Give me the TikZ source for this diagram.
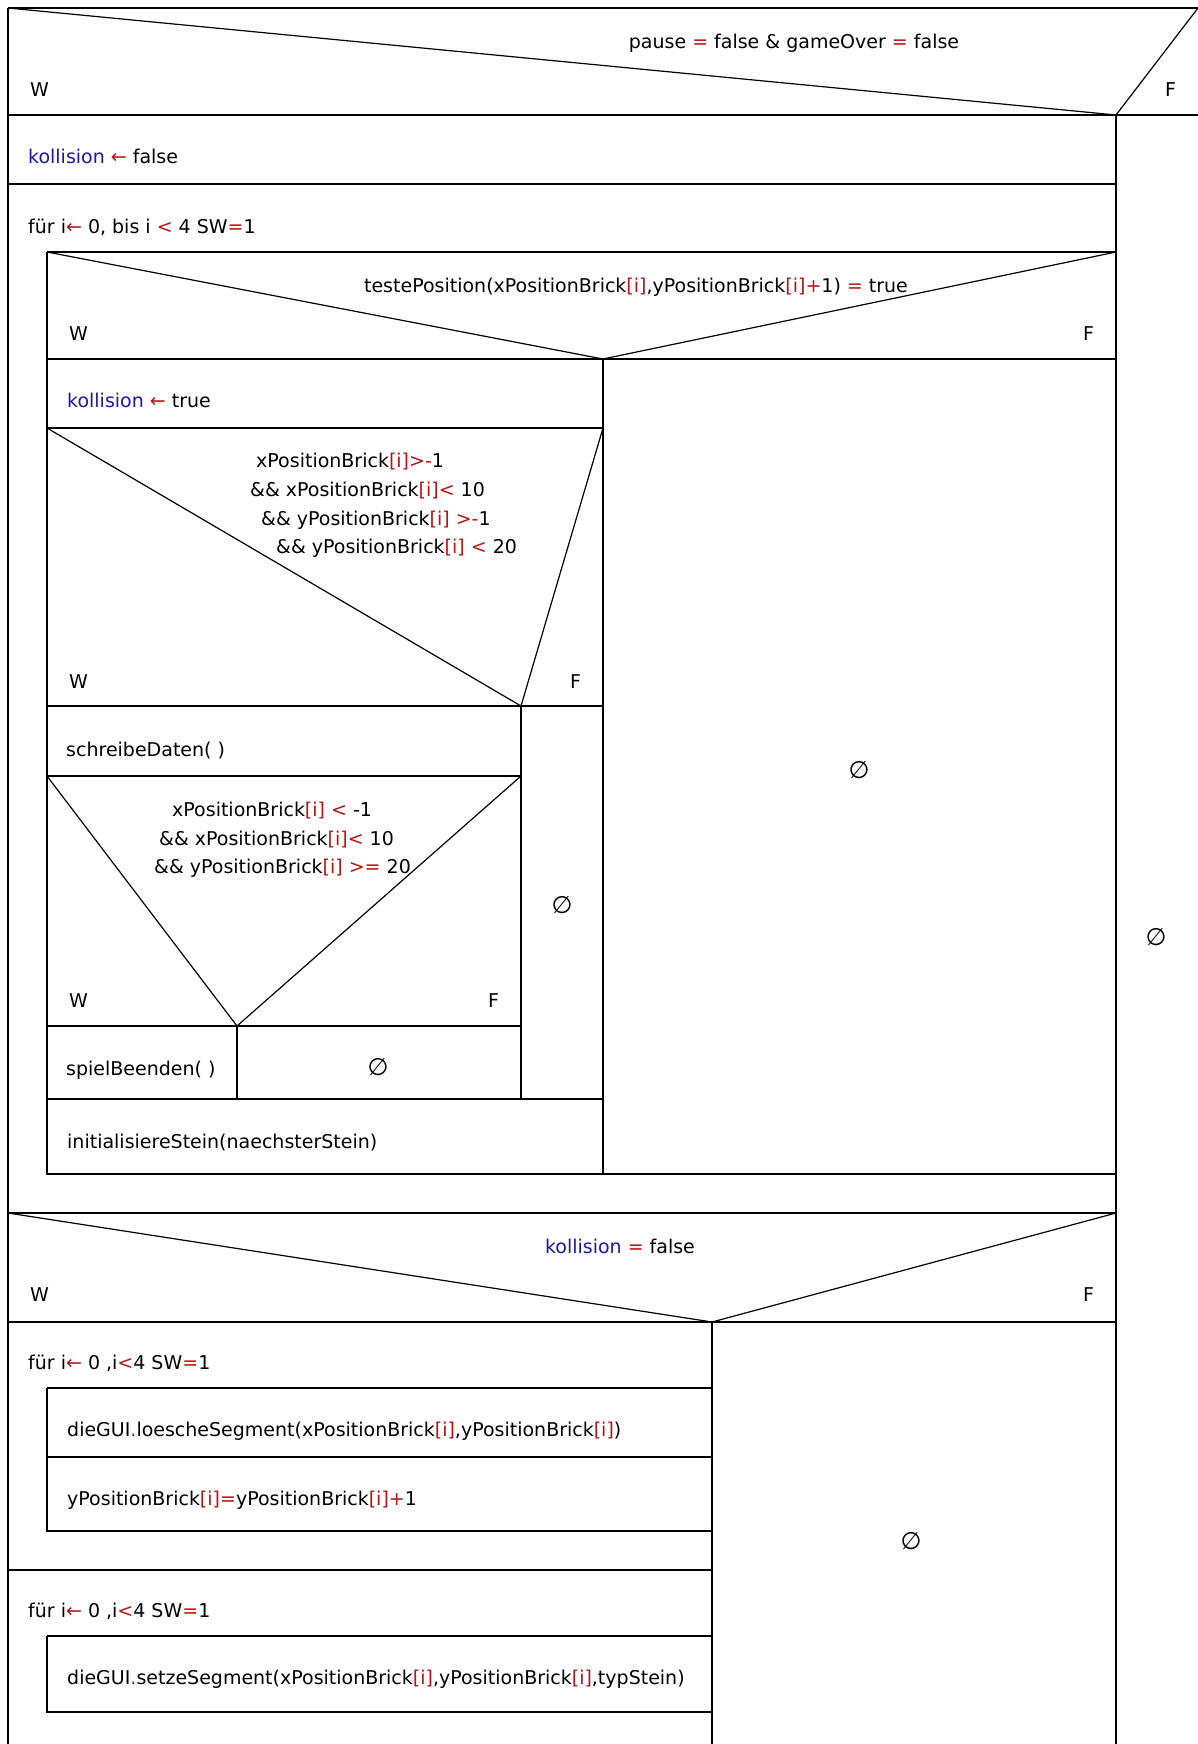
\documentclass[tikz,border=0pt]{standalone}
\usepackage{fontspec}
\setmainfont{DejaVu Sans}
\definecolor{kwblue}{RGB}{25,25,170}
\definecolor{opred}{RGB}{185,20,20}
\newcommand{\op}[1]{\textcolor{opred}{#1}}
\newcommand{\kw}[1]{\textcolor{kwblue}{#1}}
\newcommand{\zuw}{\op{←}}
\newcommand{\leer}{{\fontsize{24}{24}\selectfont ∅}}
\newcommand{\idx}{\op{[i]}}
\tikzset{
  nsline/.style={line width=1.2pt, black},
  lbl/.style={anchor=mid west, inner sep=0pt, yshift=-4.5pt, font=\fontsize{19}{23}\selectfont},
  clbl/.style={anchor=mid, inner sep=0pt, yshift=-4.5pt, font=\fontsize{19}{23}\selectfont},
}
\begin{document}
\begin{tikzpicture}[x=1pt,y=-1pt]
  \useasboundingbox (0,0) rectangle (1198,1744);
  \clip (0,0) rectangle (1198,1744);

  % columns
  \def\xL{8}     % outer left
  \def\xI{47}    % loop body
  \def\xS{237}   % split spielBeenden
  \def\xT{521}   % split bounds check
  \def\xU{603}   % split testePosition
  \def\xK{712}   % split kollision = false
  \def\xM{1116}  % split pause / gameOver
  \def\xR{1198}  % outer right
  \def\yEnd{1770} % below the page

  % outer decision
  \coordinate (TL) at (\xL,8);
  \coordinate (TR) at (\xR,8);
  \coordinate (TM) at (\xM,115);
  \draw[nsline] (TL) -- (TR);
  \draw[nsline] (TL) -- (\xL,\yEnd);
  \draw[nsline] (\xL,115) -- (\xR,115);
  \draw[nsline] (TL) -- (TM) -- (TR);
  \draw[nsline] (TM) -- (\xM,\yEnd);
  \node[clbl] (c0) at (794,41) {pause \op{=} false \& gameOver \op{=} false};
  \node[lbl] (w0) at (30,89) {W};
  \node[lbl] (f0) at (1165,89) {F};
  \node[clbl] (e0) at (1156,938) {\leer};

  % kollision <- false
  \draw[nsline] (\xL,184) -- (\xM,184);
  \node[lbl] (k0) at (28,156) {\kw{kollision} \zuw{} false};

  % loop over the four bricks
  \node[lbl] (for1) at (28,226) {für i\zuw{} 0, bis i \op{<} 4 SW\op{=}1};
  \draw[nsline] (\xI,252) -- (\xM,252);
  \draw[nsline] (\xI,252) -- (\xI,1174) -- (\xM,1174);
  \draw[nsline] (\xL,1213) -- (\xM,1213);

  % testePosition
  \coordinate (D1) at (\xU,359);
  \draw[nsline] (\xI,252) -- (D1) -- (\xM,252);
  \draw[nsline] (\xI,359) -- (\xM,359);
  \draw[nsline] (D1) -- (\xU,1174);
  \node[clbl] (c1) at (636,285) {testePosition(xPositionBrick\idx,yPositionBrick\idx\op{+}1) \op{=} true};
  \node[lbl] (w1) at (69,333) {W};
  \node[lbl] (f1) at (1083,333) {F};
  \node[clbl] (e1) at (859,771) {\leer};

  % kollision <- true
  \node[lbl] (k1) at (67,400) {\kw{kollision} \zuw{} true};
  \draw[nsline] (\xI,428) -- (\xU,428);

  % bounds check
  \coordinate (D2) at (\xT,706);
  \draw[nsline] (\xI,428) -- (D2) -- (\xU,428);
  \draw[nsline] (\xI,706) -- (\xU,706);
  \draw[nsline] (D2) -- (\xT,1099);
  \node[lbl] (c2a) at (256,460) {xPositionBrick\idx\op{>-}1};
  \node[lbl] (c2b) at (250,489) {\&\& xPositionBrick\idx\op{<} 10};
  \node[lbl] (c2c) at (261,518) {\&\& yPositionBrick\idx{} \op{>-}1};
  \node[lbl] (c2d) at (276,546) {\&\& yPositionBrick\idx{} \op{<} 20};
  \node[lbl] (w2) at (69,681) {W};
  \node[lbl] (f2) at (570,681) {F};
  \node[clbl] (e2) at (562,906) {\leer};

  % schreibeDaten
  \node[lbl] (sd) at (66,749) {schreibeDaten( )};
  \draw[nsline] (\xI,776) -- (\xT,776);

  % end of game check
  \coordinate (D3) at (\xS,1026);
  \draw[nsline] (\xI,776) -- (D3) -- (\xT,776);
  \draw[nsline] (\xI,1026) -- (\xT,1026);
  \draw[nsline] (D3) -- (\xS,1099);
  \node[lbl] (c3a) at (172,809) {xPositionBrick\idx{} \op{<} -1};
  \node[lbl] (c3b) at (159,838) {\&\& xPositionBrick\idx\op{<} 10};
  \node[lbl] (c3c) at (154,866) {\&\& yPositionBrick\idx{} \op{>=} 20};
  \node[lbl] (w3) at (69,1000) {W};
  \node[lbl] (f3) at (488,1000) {F};
  \node[lbl] (sb) at (66,1068) {spielBeenden( )};
  \node[clbl] (e3) at (378,1068) {\leer};

  % initialisiereStein
  \draw[nsline] (\xI,1099) -- (\xU,1099);
  \node[lbl] (is) at (67,1141) {initialisiereStein(naechsterStein)};

  % kollision = false
  \coordinate (D4) at (\xK,1322);
  \draw[nsline] (\xL,1213) -- (D4) -- (\xM,1213);
  \draw[nsline] (\xL,1322) -- (\xM,1322);
  \draw[nsline] (D4) -- (\xK,\yEnd);
  \node[clbl] (c4) at (620,1246) {\kw{kollision} \op{=} false};
  \node[lbl] (w4) at (30,1294) {W};
  \node[lbl] (f4) at (1083,1294) {F};
  \node[clbl] (e4) at (911,1542) {\leer};

  % loop: move down
  \node[lbl] (for2) at (28,1362) {für i\zuw{} 0 ,i\op{<}4 SW\op{=}1};
  \draw[nsline] (\xI,1388) -- (\xK,1388);
  \draw[nsline] (\xI,1388) -- (\xI,1531) -- (\xK,1531);
  \draw[nsline] (\xI,1457) -- (\xK,1457);
  \node[lbl] (ls) at (67,1429) {dieGUI\op{.}loescheSegment(xPositionBrick\idx,yPositionBrick\idx)};
  \node[lbl] (yp) at (67,1498) {yPositionBrick\idx\op{=}yPositionBrick\idx\op{+}1};
  \draw[nsline] (\xL,1570) -- (\xK,1570);

  % loop: draw again
  \node[lbl] (for3) at (28,1610) {für i\zuw{} 0 ,i\op{<}4 SW\op{=}1};
  \draw[nsline] (\xI,1636) -- (\xK,1636);
  \draw[nsline] (\xI,1636) -- (\xI,1712) -- (\xK,1712);
  \node[lbl] (ss) at (67,1677) {dieGUI\op{.}setzeSegment(xPositionBrick\idx,yPositionBrick\idx,typStein)};
\end{tikzpicture}
\end{document}
